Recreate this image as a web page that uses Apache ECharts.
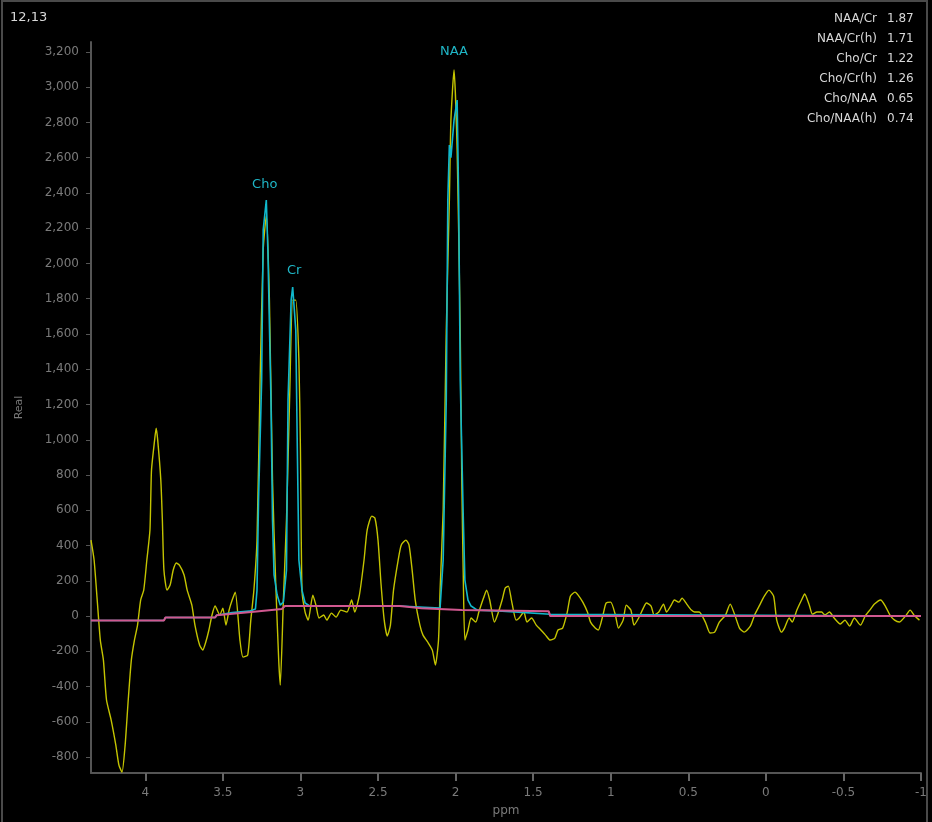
<!DOCTYPE html>
<html>
<head>
<meta charset="utf-8">
<script src="https://cdn.jsdelivr.net/npm/echarts@6/dist/echarts.min.js"></script>
<style>
html,body{margin:0;padding:0;background:#000;}
#chart{width:932px;height:822px;}
</style>
</head>
<body>
<div id="chart"></div>
<script>
// Measured spectrum (yellow)
const specPpm = [4.35,4.33,4.31,4.29,4.27,4.25,4.22,4.19,4.17,4.15,4.13,4.11,4.09,4.07,4.05,4.03,4.01,3.99,3.97,3.96,3.94,3.93,3.92,3.90,3.89,3.88,3.86,3.84,3.82,3.80,3.78,3.75,3.73,3.70,3.68,3.65,3.63,3.61,3.59,3.57,3.55,3.52,3.50,3.48,3.46,3.44,3.42,3.39,3.37,3.34,3.32,3.30,
3.28,3.26,3.24,3.22,3.20,3.18,3.16,3.14,3.13,3.11,3.09,3.07,3.05,3.03,3.01,3.00,2.99,2.97,2.95,2.92,2.90,2.88,2.85,2.83,2.80,2.77,2.74,2.70,2.67,2.65,2.62,2.59,2.57,2.54,2.52,2.50,2.48,2.46,2.44,2.42,2.40,2.37,2.35,2.32,2.30,2.28,2.26,2.23,2.21,2.18,2.15,2.13,2.11,2.10,2.08,2.06,2.04,2.03,2.01,1.99,1.97,1.96,1.95,1.94,1.92,1.90,1.87,1.85,1.82,1.80,1.78,1.75,1.73,1.70,1.68,1.66,1.64,1.61,1.59,1.56,1.54,1.51,1.48,1.45,1.42,1.39,1.36,1.34,1.31,1.28,1.26,1.23,1.21,1.18,1.15,1.13,1.10,1.08,1.05,1.03,1.00,0.97,0.95,0.92,0.90,0.87,0.85,0.82,0.79,0.77,0.74,0.72,0.69,0.66,0.64,0.61,0.59,0.56,0.54,0.51,0.48,0.46,0.43,0.39,0.36,0.33,0.30,0.26,0.23,0.20,0.17,0.14,0.10,0.07,0.04,0.01,-0.02,-0.05,-0.07,-0.10,-0.12,-0.15,-0.17,-0.20,-0.23,-0.25,-0.28,-0.30,-0.33,-0.36,-0.38,-0.41,-0.44,-0.48,-0.51,-0.54,-0.57,-0.61,-0.64,-0.67,-0.70,-0.74,-0.77,-0.80,-0.83,-0.86,-0.90,-0.93,-0.96,-0.99];
const specVal = [431,318,91,-136,-250,-476,-590,-732,-845,-885,-732,-476,-250,-136,-51,91,147,318,488,828,998,1066,998,771,545,261,147,176,261,301,289,233,147,62,-51,-164,-193,-147,-79,6,57,6,45,-51,34,91,136,-136,-233,-221,-23,147,
431,1339,2076,2274,1792,771,204,-250,-391,91,545,1225,1792,1792,1452,942,147,23,-23,119,62,-11,6,-23,17,-6,34,23,91,23,119,318,488,567,556,431,176,-23,-113,-51,147,318,403,431,403,261,91,-51,-108,-147,-193,-278,-136,147,601,1622,2360,2813,3097,2643,1622,771,204,-136,-79,-11,-34,23,102,147,91,-34,6,91,159,170,91,-23,-11,23,-34,-11,-51,-79,-108,-136,-125,-79,-68,23,113,136,119,79,23,-34,-68,-79,6,74,79,6,-68,-23,62,34,-51,-11,45,74,57,6,23,68,23,62,91,79,102,68,34,23,23,-34,-96,-91,-34,6,68,6,-68,-91,-57,11,62,113,147,113,-23,-91,-68,-11,-34,34,91,125,62,11,23,23,6,23,-11,-45,-23,-57,-11,-51,0,34,68,91,57,6,-23,-34,0,34,0,-23];

// Fitted spectrum (cyan)
const fitPpm = [4.35,3.88,3.87,3.55,3.54,3.44,3.33,3.29,3.28,3.27,3.25,3.24,3.22,3.21,3.19,3.18,3.17,3.15,3.13,3.11,3.09,3.08,3.06,3.05,3.03,3.02,3.01,2.99,2.97,2.94,2.36,2.20,2.10,2.08,2.06,2.05,2.04,2.03,2.01,1.99,1.98,1.97,1.95,1.94,1.92,1.90,1.86,1.70,1.39,1.38,-1];
const fitVal = [-25,-25,-8,-8,5,20,28,40,147,660,1339,2190,2360,2076,1225,545,233,119,62,80,261,1225,1792,1866,1622,942,318,147,74,57,57,50,45,318,1225,2360,2671,2600,2813,2927,2360,1339,545,204,91,57,34,28,10,0,0];

// Baseline (pink)
const basePpm = [4.35,3.88,3.87,3.55,3.54,3.30,3.12,3.10,2.36,2.22,1.96,1.40,1.39,-1];
const baseVal = [-25,-25,-8,-8,5,25,40,57,57,45,34,28,0,0];

// Peak labels
const peakNames = ['Cho','Cr','NAA'];
const peakPpm = [3.23,3.04,2.01];
const peakLabelVal = [2445,1962,3199];

// Ratios
const ratioNames = ['NAA/Cr','NAA/Cr(h)','Cho/Cr','Cho/Cr(h)','Cho/NAA','Cho/NAA(h)'];
const ratioValues = ['1.87','1.71','1.22','1.26','0.65','0.74'];

// Ticks
const xTicks = [4,3.5,3,2.5,2,1.5,1,0.5,0,-0.5,-1];
const yTicks = [-800,-600,-400,-200,0,200,400,600,800,1000,1200,1400,1600,1800,2000,2200,2400,2600,2800,3000,3200];

const zip = (a,b) => a.map((v,i)=>[v,b[i]]);

const chart = echarts.init(document.getElementById('chart'), null, {renderer:'canvas'});

const graphics = [
  {type:'rect', shape:{x:2,y:1,width:925,height:830}, style:{fill:'none', stroke:'#4a4a4a', lineWidth:2}, silent:true},
  {type:'text', left:10, top:11, style:{text:'12,13', fill:'#d8d8d8', font:'13px "DejaVu Sans"'}}
];
ratioNames.forEach((n,i)=>{
  graphics.push({type:'text', x:877, y:19+i*20, style:{text:n, fill:'#d8d8d8', font:'12px "DejaVu Sans"', align:'right', verticalAlign:'middle'}});
  graphics.push({type:'text', x:887, y:19+i*20, style:{text:ratioValues[i], fill:'#d8d8d8', font:'12px "DejaVu Sans"', align:'left', verticalAlign:'middle'}});
});

const option = {
  backgroundColor:'#000',
  animation:false,
  grid:{left:91, right:11, top:42, bottom:49, containLabel:false},
  xAxis:{
    type:'value', min:-1, max:4.35, inverse:true,
    name:'ppm', nameLocation:'middle', nameGap:32,
    nameTextStyle:{color:'#7a7a7a', fontSize:12, fontFamily:'DejaVu Sans'},
    axisLine:{show:true, onZero:false, lineStyle:{color:'#555', width:2}},
    axisTick:{show:true, length:8, lineStyle:{color:'#666', width:2}, customValues:xTicks},
    axisLabel:{color:'#7a7a7a', fontSize:12, fontFamily:'DejaVu Sans', margin:14, customValues:xTicks, formatter:v=>String(v)},
    splitLine:{show:false}
  },
  yAxis:{
    type:'value', min:-890, max:3256,
    name:'Real', nameLocation:'middle', nameGap:66,
    nameTextStyle:{color:'#7a7a7a', fontSize:11, fontFamily:'DejaVu Sans'},
    axisLine:{show:true, onZero:false, lineStyle:{color:'#555', width:2}},
    axisTick:{show:true, length:5, lineStyle:{color:'#555'}, customValues:yTicks},
    axisLabel:{color:'#7a7a7a', fontSize:12, fontFamily:'DejaVu Sans', margin:12, customValues:yTicks, formatter:v=>v.toLocaleString('en-US')},
    splitLine:{show:false}
  },
  series:[
    {type:'line', name:'spectrum', data:zip(specPpm,specVal), showSymbol:false, smooth:0.2, z:1,
     lineStyle:{color:'#c4c400', width:1.4}},
    {type:'line', name:'fit', data:zip(fitPpm,fitVal), showSymbol:false, z:2,
     lineStyle:{color:'#10b8cc', width:1.6},
     markPoint:{symbol:'circle', symbolSize:1, itemStyle:{color:'rgba(0,0,0,0)'},
       label:{show:true, position:'inside', color:'#1fb6c6', fontSize:13, fontFamily:'DejaVu Sans'},
       data:peakNames.map((n,i)=>({coord:[peakPpm[i],peakLabelVal[i]], value:n, label:{formatter:n}}))}},
    {type:'line', name:'baseline', data:zip(basePpm,baseVal), showSymbol:false, z:3,
     lineStyle:{color:'#d0588f', width:2}}
  ],
  graphic:graphics
};
chart.setOption(option);
</script>
</body>
</html>
